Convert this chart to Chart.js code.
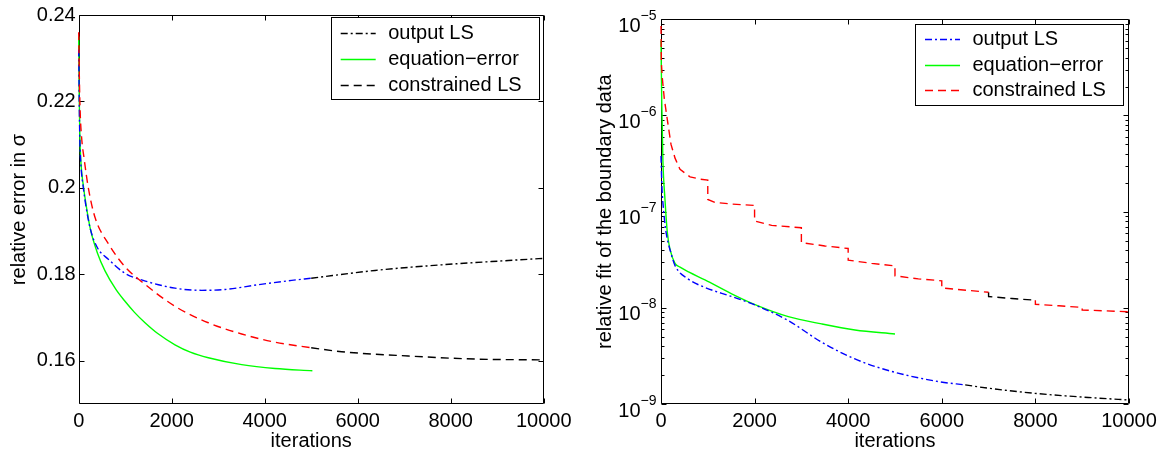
<!DOCTYPE html>
<html><head><meta charset="utf-8">
<script src="https://cdn.jsdelivr.net/npm/chart.js@4.4.1/dist/chart.umd.min.js"></script>
<style>
html,body{margin:0;padding:0;background:#fff;}
#wrap{position:relative;width:1162px;height:452px;overflow:hidden;background:#fff;}
canvas{position:absolute;top:0;}
#cL{left:0;} #cR{left:580px;}
</style></head><body>
<div id="wrap"><canvas id="cL" width="580" height="452"></canvas><canvas id="cR" width="582" height="452"></canvas></div>
<script>
// ---------------- shared ----------------
const seriesNames = ['output LS', 'equation\u2212error', 'constrained LS'];
const xTicks = [0, 2000, 4000, 6000, 8000, 10000];
const xTickLabels = ['0', '2000', '4000', '6000', '8000', '10000'];
const xTitle = 'iterations';

// ---------------- left panel: relative error in sigma ----------------
const leftYTitle = 'relative error in \u03c3';
const leftYTicks = [0.16, 0.18, 0.2, 0.22, 0.24];
const leftYTickLabels = ['0.16', '0.18', '0.2', '0.22', '0.24'];

const L_outBlueIter  = [0, 10, 25, 50, 100, 160, 250, 400, 637, 1000, 1355, 2071, 2645, 3146, 3862, 4581, 5000];
const L_outBlueVal   = [0.232, 0.221, 0.211, 0.205, 0.2, 0.1955, 0.1905, 0.1862, 0.1835, 0.1802, 0.1787, 0.1768, 0.1763, 0.1765, 0.1776, 0.1786, 0.1791];
const L_outBlackIter = [5000, 6372, 7806, 9239, 10000];
const L_outBlackVal  = [0.1791, 0.1809, 0.1822, 0.1832, 0.1837];

const L_eqIter = [0, 10, 25, 50, 100, 160, 250, 400, 566, 800, 1000, 1200, 1426, 1700, 2071, 2400, 2788, 3505, 4222, 5025];
const L_eqVal  = [0.235, 0.222, 0.212, 0.2055, 0.2005, 0.196, 0.1905, 0.185, 0.1808, 0.1765, 0.1737, 0.1712, 0.1688, 0.1663, 0.1637, 0.162, 0.1607, 0.1591, 0.1582, 0.1577];

const L_conRedIter   = [0, 15, 30, 60, 120, 207, 350, 637, 1000, 1355, 2071, 2788, 3505, 4222, 5000];
const L_conRedVal    = [0.236, 0.225, 0.218, 0.212, 0.2065, 0.2, 0.1932, 0.1871, 0.1817, 0.1783, 0.1726, 0.1688, 0.1662, 0.1643, 0.163];
const L_conBlackIter = [5000, 5656, 7088, 8523, 10000];
const L_conBlackVal  = [0.163, 0.1621, 0.1611, 0.1604, 0.1602];

// ---------------- right panel: relative fit of the boundary data ----------------
const rightYTitle = 'relative fit of the boundary data';
const rightYTickExps = [-9, -8, -7, -6, -5];
const rightYTickBase = '10';

const R_outBlueIter  = [0, 20, 50, 100, 150, 200, 300, 584, 940, 1510, 2009, 2721, 3433, 4145, 4857, 5926, 6500];
const R_outBlueVal   = [3.8e-7, 1.8e-7, 1.1e-7, 6.5e-8, 4.8e-8, 3.9e-8, 2.75e-8, 1.99e-8, 1.63e-8, 1.31e-8, 1.07e-8, 7.35e-9, 4.39e-9, 2.94e-9, 2.23e-9, 1.71e-9, 1.58e-9];
const R_outBlackIter = [6500, 6994, 8062, 9130, 10000];
const R_outBlackVal  = [1.58e-9, 1.46e-9, 1.28e-9, 1.17e-9, 1.1e-9];

const R_eqIter = [0, 15, 40, 85, 135, 192, 299, 406, 600, 940, 1510, 2009, 2721, 3433, 4145, 5000];
const R_eqVal  = [6e-6, 1.5e-6, 3.5e-7, 1.34e-7, 6.1e-8, 4.07e-8, 2.9e-8, 2.65e-8, 2.35e-8, 1.95e-8, 1.4e-8, 1.08e-8, 8.1e-9, 6.8e-9, 5.89e-9, 5.35e-9];

const R_conRedIter = [0, 8, 30, 70, 122, 160, 214, 300, 406, 620, 830, 999,
                      1000, 1150, 1500, 1999, 2000, 2365, 2999, 3000, 3500, 3999,
                      4000, 4500, 4999, 5000, 5500, 5999, 6000, 6999];
const R_conRedVal  = [8.5e-6, 3.5e-6, 2.4e-6, 1.5e-6, 1.0e-6, 7.5e-7, 5e-7, 3.6e-7, 2.75e-7, 2.3e-7, 2.18e-7, 2.13e-7,
                      1.34e-7, 1.25e-7, 1.2e-7, 1.16e-7, 8.0e-8, 7.2e-8, 6.8e-8, 4.77e-8, 4.4e-8, 4.14e-8,
                      3.13e-8, 2.9e-8, 2.73e-8, 2.15e-8, 2.0e-8, 1.91e-8, 1.61e-8, 1.45e-8];
const R_conBlackIter = [6999, 7000, 7500, 7999];
const R_conBlackVal  = [1.45e-8, 1.31e-8, 1.25e-8, 1.2e-8];
const R_conRed2Iter  = [7999, 8000, 8500, 8999, 9000, 9500, 10000];
const R_conRed2Val   = [1.2e-8, 1.09e-8, 1.05e-8, 1.01e-8, 9.5e-9, 9.3e-9, 9.1e-9];

// ---------------- styling ----------------
const FONT = '"Liberation Sans", Arial, Helvetica, sans-serif';
const FS = 20;
Chart.defaults.font.family = FONT;
Chart.defaults.color = '#000';
const DASH = [8, 5];
const DASHDOT = [7, 3, 2, 3];
const LW = 1.4;

const pts = (xs, ys) => xs.map((x, i) => ({x: x, y: ys[i]}));
function ds(label, xs, ys, color, dash, smooth, order) {
  return {
    label: label, data: pts(xs, ys), borderColor: color, backgroundColor: color,
    borderDash: dash, borderWidth: LW, pointRadius: 0, pointHoverRadius: 0,
    showLine: true, fill: false, tension: smooth ? 0.4 : 0, clip: 4, order: order,
    cubicInterpolationMode: smooth ? 'monotone' : 'default'
  };
}

const frame = {
  id: 'frame',
  beforeDatasetsDraw(chart, args, o) {
    const ctx = chart.ctx, a = chart.chartArea, sx = chart.scales.x, sy = chart.scales.y;
    const L = Math.round(a.left) + 0.5, R = Math.round(a.right) - 0.5;
    const T = Math.round(a.top) + 0.5, B = Math.round(a.bottom) - 0.5;
    ctx.save();
    ctx.strokeStyle = '#000'; ctx.lineWidth = 1; ctx.setLineDash([]);
    ctx.beginPath();
    ctx.rect(L, T, R - L, B - T);
    xTicks.forEach(v => {
      const p = Math.round(sx.getPixelForValue(v)) + 0.5;
      ctx.moveTo(p, B); ctx.lineTo(p, B - 5);
      ctx.moveTo(p, T); ctx.lineTo(p, T + 5);
    });
    o.major.forEach(v => {
      const p = Math.round(sy.getPixelForValue(v)) + 0.5;
      ctx.moveTo(L, p); ctx.lineTo(L + 5, p);
      ctx.moveTo(R, p); ctx.lineTo(R - 5, p);
    });
    (o.minor || []).forEach(v => {
      const p = Math.round(sy.getPixelForValue(v)) + 0.5;
      ctx.moveTo(L, p); ctx.lineTo(L + 3, p);
      ctx.moveTo(R, p); ctx.lineTo(R - 3, p);
    });
    ctx.stroke();
    ctx.restore();
  },
  afterDraw(chart, args, o) {
    const ctx = chart.ctx, g = o.legend;
    ctx.save();
    ctx.fillStyle = '#fff';
    ctx.fillRect(g.x, g.y, g.w, g.h);
    ctx.strokeStyle = '#000'; ctx.lineWidth = 1; ctx.setLineDash([]);
    ctx.strokeRect(Math.round(g.x) + 0.5, Math.round(g.y) + 0.5, Math.round(g.w), Math.round(g.h));
    g.entries.forEach((di, k) => {
      const d = chart.data.datasets[di];
      const yy = Math.round(g.y + g.first + k * g.step) + 0.5;
      ctx.strokeStyle = d.borderColor; ctx.lineWidth = LW;
      ctx.setLineDash(d.borderDash || []);
      ctx.beginPath(); ctx.moveTo(g.x + 10, yy); ctx.lineTo(g.x + 45, yy); ctx.stroke();
      ctx.setLineDash([]);
      ctx.fillStyle = '#000'; ctx.font = FS + 'px ' + FONT;
      ctx.textAlign = 'left'; ctx.textBaseline = 'middle';
      ctx.fillText(d.label, g.x + 57.5, yy);
    });
    if (o.expLabels) {
      const sy = chart.scales.y, a = chart.chartArea;
      ctx.fillStyle = '#000'; ctx.textAlign = 'right'; ctx.textBaseline = 'alphabetic';
      rightYTickExps.forEach(e => {
        const p = sy.getPixelForValue(Math.pow(10, e));
        const sup = '\u2212' + Math.abs(e);
        ctx.font = '14px ' + FONT;
        const sw = ctx.measureText(sup).width;
        const rEdge = a.left - 4.5;
        ctx.fillText(sup, rEdge, p + 0.5);
        ctx.font = FS + 'px ' + FONT;
        ctx.fillText(rightYTickBase, rEdge - sw, p + 12.5);
      });
    }
    ctx.restore();
  }
};

function xScale() {
  return {
    type: 'linear', min: 0, max: 10000,
    afterBuildTicks: s => { s.ticks = xTicks.map(v => ({value: v})); },
    ticks: {autoSkip: false, maxRotation: 0, minRotation: 0, padding: 5, font: {size: FS}, color: '#000',
            callback: (v, i) => xTickLabels[i]},
    grid: {display: false, drawTicks: false}, border: {display: false},
    title: {display: true, text: xTitle, color: '#000', font: {size: FS, lineHeight: 1}, padding: {top: 0, bottom: 1}},
    afterFit: s => { s.height = 48; }
  };
}

// ---------------- left chart ----------------
new Chart(document.getElementById('cL'), {
  type: 'scatter',
  data: {datasets: [
    ds(seriesNames[0], L_outBlueIter, L_outBlueVal, '#0000ff', DASHDOT, true, 1),
    ds(seriesNames[0], L_outBlackIter, L_outBlackVal, '#000000', DASHDOT, true, 1),
    ds(seriesNames[1], L_eqIter, L_eqVal, '#00ff00', [], true, 2),
    ds(seriesNames[2], L_conRedIter, L_conRedVal, '#ff0000', DASH, true, 0),
    ds(seriesNames[2], L_conBlackIter, L_conBlackVal, '#000000', DASH, true, 0)
  ]},
  options: {
    responsive: false, animation: false, devicePixelRatio: 1,
    layout: {padding: {left: 0, right: 36.3, top: 12, bottom: 0}},
    plugins: {legend: {display: false}, tooltip: {enabled: false},
      frame: {major: leftYTicks,
              legend: {x: 330.7, y: 17.3, w: 208.3, h: 81.7, first: 16, step: 25.8, entries: [1, 2, 4]}}},
    scales: {
      x: xScale(),
      y: {
        type: 'linear', min: 0.15, max: 0.24,
        afterBuildTicks: s => { s.ticks = leftYTicks.map(v => ({value: v})); },
        ticks: {padding: 3, font: {size: FS}, color: '#000', callback: (v, i) => leftYTickLabels[i]},
        grid: {display: false, drawTicks: false}, border: {display: false},
        title: {display: true, text: leftYTitle, color: '#000', font: {size: FS, lineHeight: 1.2}, padding: {top: 7, bottom: 0}},
        afterFit: s => { s.width = 78.7; }
      }
    }
  },
  plugins: [frame]
});

// ---------------- right chart ----------------
const rightMinor = [];
for (let e = -9; e < -5; e++) for (let m = 2; m <= 9; m++) rightMinor.push(m * Math.pow(10, e));

new Chart(document.getElementById('cR'), {
  type: 'scatter',
  data: {datasets: [
    ds(seriesNames[0], R_outBlueIter, R_outBlueVal, '#0000ff', DASHDOT, true, 1),
    ds(seriesNames[0], R_outBlackIter, R_outBlackVal, '#000000', DASHDOT, true, 1),
    ds(seriesNames[1], R_eqIter, R_eqVal, '#00ff00', [], true, 2),
    ds(seriesNames[2], R_conRedIter, R_conRedVal, '#ff0000', DASH, false, 0),
    ds(seriesNames[2], R_conBlackIter, R_conBlackVal, '#000000', DASH, false, 0),
    ds(seriesNames[2], R_conRed2Iter, R_conRed2Val, '#ff0000', DASH, false, 0)
  ]},
  options: {
    responsive: false, animation: false, devicePixelRatio: 1,
    layout: {padding: {left: 0, right: 33, top: 19.3, bottom: 0}},
    plugins: {legend: {display: false}, tooltip: {enabled: false},
      frame: {major: rightYTickExps.map(e => Math.pow(10, e)), minor: rightMinor, expLabels: true,
              legend: {x: 335, y: 24, w: 207.7, h: 81, first: 15, step: 25.5, entries: [0, 2, 3]}}},
    scales: {
      x: xScale(),
      y: {
        type: 'logarithmic', min: 1e-9, max: 1e-5,
        afterBuildTicks: s => { s.ticks = rightYTickExps.map(e => ({value: Math.pow(10, e)})); },
        ticks: {display: false},
        grid: {display: false, drawTicks: false}, border: {display: false},
        title: {display: true, text: rightYTitle, color: '#000', font: {size: FS, lineHeight: 1.2}, padding: {top: 13, bottom: 0}},
        afterFit: s => { s.width = 81; }
      }
    }
  },
  plugins: [frame]
});
</script>
</body></html>
